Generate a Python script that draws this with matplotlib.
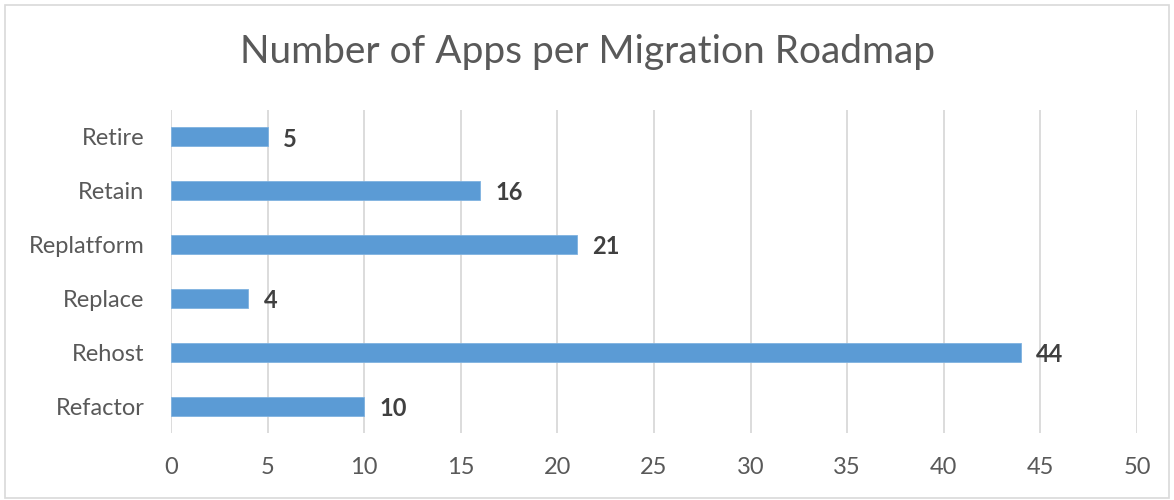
import matplotlib
matplotlib.use("Agg")
import matplotlib.pyplot as plt
from matplotlib.patches import Rectangle

categories = ["Refactor", "Rehost", "Replace", "Replatform", "Retain", "Retire"]
values = [10, 44, 4, 21, 16, 5]
xticks = [0, 5, 10, 15, 20, 25, 30, 35, 40, 45, 50]
title = "Number of Apps per Migration Roadmap"

plt.rcParams['font.family'] = ['Lato', 'DejaVu Sans']

fig = plt.figure(figsize=(11.74, 5.0), dpi=100)
W, H = 1174, 500
ax = fig.add_axes([171 / W, 1 - 433 / H, (1137 - 171) / W, (433 - 110) / H])

ypos = list(range(len(categories)))
ax.barh(ypos, values, height=0.35, color="#5B9BD5", edgecolor="#7FB2E0", linewidth=0.6, zorder=3)
ax.set_ylim(-0.5, len(categories) - 0.5)
ax.set_xlim(0, 50)
ax.set_xticks(xticks)
ax.set_xticklabels([str(t) for t in xticks])
ax.set_yticks(ypos)
ax.set_yticklabels(categories)
ax.tick_params(axis='both', length=0, labelsize=17, colors="#595959")
ax.tick_params(axis='x', pad=17)
ax.tick_params(axis='y', pad=19)
ax.grid(axis='x', color="#D9D9D9", linewidth=1.3, zorder=0)
for s in ax.spines.values():
    s.set_visible(False)

for y, v in zip(ypos, values):
    ax.annotate(str(v), (v, y), xytext=(11, -1.5), textcoords='offset points',
                ha='left', va='center', fontsize=17, fontweight='bold', color="#404040")

fig.text(0.5, 1 - 52 / H, title, ha='center', va='center', fontsize=28, color="#595959")

fig.patches.append(Rectangle((5 / W, 2 / H), 1164 / W, 493 / H, transform=fig.transFigure,
                             fill=False, edgecolor="#D9D9D9", linewidth=1.2))

fig.savefig("out.png", dpi=100)
